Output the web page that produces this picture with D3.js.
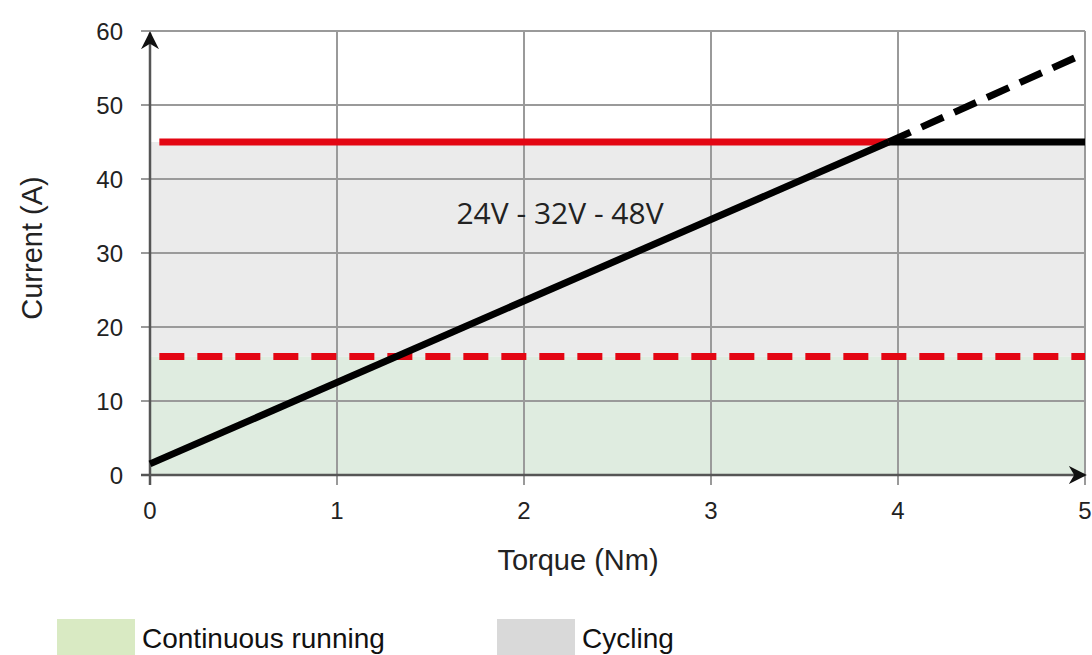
<!DOCTYPE html>
<html>
<head>
<meta charset="utf-8">
<script src="https://cdn.jsdelivr.net/npm/d3@7"></script>
<style>
  body { margin: 0; background: #fff; }
  text { font-family: "Liberation Sans", Arial, sans-serif; }
</style>
</head>
<body>
<svg width="1092" height="655"></svg>
<script>
// data
const xTicks = [0, 1, 2, 3, 4, 5];
const yTicks = [0, 10, 20, 30, 40, 50, 60];
const continuousLimit = 16;   // red dashed
const cyclingLimit = 45;      // red solid
const currentLine = [[0, 1.5], [3.95, 45]];
const currentExtrapolated = [[3.95, 45], [5, 57]];
const currentCapped = [[3.95, 45], [5, 45]];
const curveLabel = "24V - 32V - 48V";
const legendItems = ["Continuous running", "Cycling"];
const legendColors = ["#d9eac3", "#d9d9d9"];

const svg = d3.select("svg");
const x = d3.scaleLinear().domain([0, 5]).range([150, 1085]);
const y = d3.scaleLinear().domain([0, 60]).range([475, 31]);
const g = svg.append("g");

// zones
g.append("rect").attr("x", x(0)).attr("y", y(cyclingLimit))
  .attr("width", x(5) - x(0)).attr("height", y(continuousLimit) - y(cyclingLimit))
  .style("fill", "#ebebeb");
g.append("rect").attr("x", x(0)).attr("y", y(continuousLimit))
  .attr("width", x(5) - x(0)).attr("height", y(0) - y(continuousLimit))
  .style("fill", "#dfece0");

// grid
yTicks.forEach(function(t) {
  g.append("line").attr("x1", x(0) - 9).attr("x2", x(5))
   .attr("y1", y(t)).attr("y2", y(t))
   .style("stroke", "#9a9a9a").style("stroke-width", 2);
  g.append("text").attr("x", 123).attr("y", y(t) + 9)
   .attr("text-anchor", "end").style("font-size", "24px").style("fill", "#222")
   .text(t);
});
xTicks.forEach(function(t) {
  g.append("line").attr("x1", x(t)).attr("x2", x(t))
   .attr("y1", y(60)).attr("y2", y(0) + 10)
   .style("stroke", "#9a9a9a").style("stroke-width", 2);
  g.append("text").attr("x", x(t)).attr("y", 519)
   .attr("text-anchor", "middle").style("font-size", "24px").style("fill", "#222")
   .text(t);
});

// axes with arrows
svg.append("defs").append("marker").attr("id", "arr")
  .attr("viewBox", "0 0 10 10").attr("refX", 9).attr("refY", 5)
  .attr("markerWidth", 18).attr("markerHeight", 18).attr("markerUnits", "userSpaceOnUse")
  .attr("orient", "auto")
  .append("path").attr("d", "M0,0 L10,5 L0,10 L3,5 Z").style("fill", "#111");
g.append("line").attr("x1", x(0)).attr("x2", x(0)).attr("y1", y(0) + 10).attr("y2", y(60) + 2)
  .style("stroke", "#555").style("stroke-width", 2.5).attr("marker-end", "url(#arr)");
g.append("line").attr("x1", x(0) - 9).attr("x2", x(5)).attr("y1", y(0)).attr("y2", y(0))
  .style("stroke", "#555").style("stroke-width", 2.5).attr("marker-end", "url(#arr)");

const line = d3.line().x(d => x(d[0])).y(d => y(d[1]));

// limits
g.append("path").attr("d", line([[0.05, continuousLimit], [5, continuousLimit]]))
  .style("fill", "none").style("stroke", "#e30613").style("stroke-width", 7)
  .style("stroke-dasharray", "25,13");
g.append("path").attr("d", line([[0.05, cyclingLimit], [currentLine[1][0], cyclingLimit]]))
  .style("fill", "none").style("stroke", "#e30613").style("stroke-width", 7);

// current curve
g.append("path").attr("d", line(currentLine))
  .style("fill", "none").style("stroke", "#000").style("stroke-width", 7);
g.append("path").attr("d", line(currentExtrapolated))
  .style("fill", "none").style("stroke", "#000").style("stroke-width", 7)
  .style("stroke-dasharray", "24,12");
g.append("path").attr("d", line(currentCapped))
  .style("fill", "none").style("stroke", "#000").style("stroke-width", 7);

g.append("text").attr("x", 560).attr("y", 224).attr("text-anchor", "middle")
  .style("font-family", "'Open Sans', 'Noto Sans', sans-serif")
  .style("font-size", "30px").style("fill", "#222").text(curveLabel);

// axis titles
svg.append("text").attr("transform", "translate(42,248) rotate(-90)")
  .attr("text-anchor", "middle").style("font-size", "29px").style("fill", "#222")
  .text("Current (A)");
svg.append("text").attr("x", 578).attr("y", 570).attr("text-anchor", "middle")
  .style("font-size", "29px").style("fill", "#222").text("Torque (Nm)");

// legend
const legendX = [57, 497];
legendItems.forEach(function(name, i) {
  svg.append("rect").attr("x", legendX[i]).attr("y", 619).attr("width", 78).attr("height", 36)
    .style("fill", legendColors[i]);
  svg.append("text").attr("x", legendX[i] + 85).attr("y", 648)
    .style("font-size", "28px").style("fill", "#111").text(name);
});
</script>
</body>
</html>
